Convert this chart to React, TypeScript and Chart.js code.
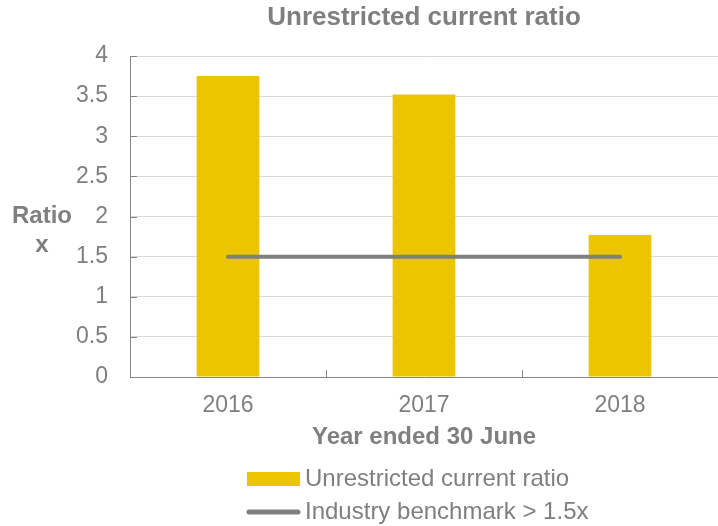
import React, { useEffect, useRef } from "react";
import { Chart, registerables } from "chart.js";

Chart.register(...registerables);

const categories: string[] = ["2016", "2017", "2018"];
const ratioValues: number[] = [3.75, 3.52, 1.77];
const benchmarkValues: number[] = [1.5, 1.5, 1.5];
const titleText = "Unrestricted current ratio";
const xTitleText = "Year ended 30 June";
const yTitleLines: string[] = ["Ratio", "x"];
const barLabel = "Unrestricted current ratio";
const lineLabel = "Industry benchmark > 1.5x";

const FONT = "'Liberation Sans', Arial, sans-serif";
const TEXT = "#7f7f7f";
const YELLOW = "#eac500";
const LINE = "#7f7f7f";
const AXIS = "#868686";
const GRID = "#d9d9d9";

const extrasPlugin = {
  id: "extras",
  afterDraw(chart: any) {
    const ctx = chart.ctx as CanvasRenderingContext2D;
    const area = chart.chartArea;
    const x = chart.scales.x;
    const y = chart.scales.y;
    ctx.save();
    // inside tick marks
    ctx.strokeStyle = AXIS;
    ctx.lineWidth = 1;
    y.ticks.forEach((_t: any, i: number) => {
      const py = Math.round(y.getPixelForTick(i)) + 0.5;
      ctx.beginPath();
      ctx.moveTo(area.left, py);
      ctx.lineTo(area.left + 7, py);
      ctx.stroke();
    });
    const half = (x.getPixelForValue(1) - x.getPixelForValue(0)) / 2;
    for (let i = 0; i <= categories.length; i++) {
      const px = Math.round(x.getPixelForValue(i) - half) + 0.5;
      ctx.beginPath();
      ctx.moveTo(px, area.bottom);
      ctx.lineTo(px, area.bottom - 7);
      ctx.stroke();
    }
    // y axis title (horizontal)
    ctx.fillStyle = TEXT;
    ctx.font = `bold 24px ${FONT}`;
    ctx.textAlign = "center";
    ctx.textBaseline = "middle";
    const yMid = (area.top + area.bottom) / 2;
    yTitleLines.forEach((line, i) => {
      ctx.fillText(line, 42, yMid + i * 29);
    });
    // legend
    ctx.font = `24px ${FONT}`;
    ctx.textAlign = "left";
    const w1 = ctx.measureText(barLabel).width;
    const w2 = ctx.measureText(lineLabel).width;
    const blockW = 53 + 5 + Math.max(w1, w2);
    const cx = (area.left + area.right) / 2 - 6;
    const left = Math.round(cx - blockW / 2);
    const row1 = area.bottom + 102;
    const row2 = area.bottom + 135;
    ctx.fillStyle = chart.data.datasets[1].backgroundColor;
    ctx.fillRect(left, row1 - 7, 53, 14);
    ctx.strokeStyle = chart.data.datasets[0].borderColor;
    ctx.lineWidth = 5;
    ctx.lineCap = "round";
    ctx.beginPath();
    ctx.moveTo(left + 2, row2);
    ctx.lineTo(left + 51, row2);
    ctx.stroke();
    ctx.fillStyle = TEXT;
    ctx.fillText(barLabel, left + 58, row1);
    ctx.fillText(lineLabel, left + 58, row2);
    ctx.restore();
  },
};

export default function App() {
  const ref = useRef<HTMLCanvasElement | null>(null);
  useEffect(() => {
    if (!ref.current) return;
    const chart = new Chart(ref.current, {
      type: "bar",
      data: {
        labels: categories,
        datasets: [
          {
            type: "line",
            label: lineLabel,
            data: benchmarkValues,
            borderColor: LINE,
            backgroundColor: LINE,
            borderWidth: 4,
            borderCapStyle: "round",
            pointRadius: 0,
            pointHoverRadius: 0,
            fill: false,
            order: 0,
          } as any,
          {
            type: "bar",
            label: barLabel,
            data: ratioValues,
            backgroundColor: YELLOW,
            borderWidth: 0,
            barPercentage: 0.32,
            categoryPercentage: 1,
            order: 1,
          },
        ],
      },
      options: {
        responsive: false,
        animation: false,
        devicePixelRatio: 1,
        layout: { padding: { left: 0, right: 0, top: 0, bottom: 74.6 } },
        plugins: {
          legend: { display: false },
          tooltip: { enabled: false },
          title: {
            display: true,
            text: titleText,
            fullSize: false,
            color: TEXT,
            font: { family: FONT, size: 26, weight: "bold" },
            padding: { top: 2, bottom: 22.8 },
          },
        },
        scales: {
          x: {
            grid: { display: false, drawTicks: false },
            border: { display: true, color: AXIS, width: 1 },
            ticks: { color: TEXT, font: { family: FONT, size: 23 }, padding: 15 },
            title: {
              display: true,
              text: xTitleText,
              color: TEXT,
              font: { family: FONT, size: 24, weight: "bold" },
              padding: { top: -12, bottom: 0 },
            },
          },
          y: {
            min: 0,
            max: 4,
            ticks: {
              stepSize: 0.5,
              color: TEXT,
              font: { family: FONT, size: 23 },
              padding: 22,
              callback: (v: any) => String(Number(v)),
            },
            grid: { color: GRID, lineWidth: 1, drawTicks: false },
            border: { display: true, color: AXIS, width: 1 },
            afterFit: (scale: any) => {
              scale.width = 130;
            },
          },
        },
      },
      plugins: [extrasPlugin],
    });
    return () => chart.destroy();
  }, []);
  return (
    <div style={{ position: "absolute", left: 0, top: 0, width: 718, height: 526, background: "#fff" }}>
      <canvas ref={ref} width={718} height={526} style={{ display: "block" }} />
    </div>
  );
}
